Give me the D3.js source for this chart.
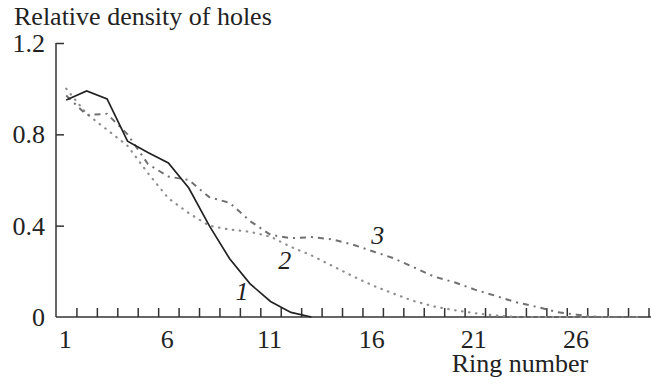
<!DOCTYPE html>
<html>
<head>
<meta charset="utf-8">
<script src="https://cdn.jsdelivr.net/npm/d3@7"></script>
<style>
  html, body { margin: 0; padding: 0; background: #fff; }
</style>
</head>
<body>
<svg id="chart" width="651" height="384"></svg>
<script>
// Ring numbers 1..29
const rings = d3.range(1, 30);

// Relative hole density per ring, three series
const series1 = [0.95, 0.99, 0.955, 0.77, 0.72, 0.675, 0.565, 0.40, 0.255, 0.145, 0.068, 0.02, 0];
const series2 = [1.0, 0.89, 0.82, 0.75, 0.63, 0.52, 0.455, 0.40, 0.383, 0.373, 0.352, 0.307, 0.27, 0.225,
                 0.18, 0.138, 0.103, 0.07, 0.046, 0.03, 0.017, 0.007, 0, 0, 0, 0, 0, 0, 0];
const series3 = [0.97, 0.885, 0.89, 0.80, 0.67, 0.615, 0.60, 0.525, 0.50, 0.42, 0.36, 0.345, 0.35, 0.34,
                 0.318, 0.288, 0.258, 0.218, 0.177, 0.152, 0.12, 0.093, 0.065, 0.045, 0.022, 0.01, 0, 0, 0];

const xTickLabels = [1, 6, 11, 16, 21, 26];
const yTickLabels = [0, 0.4, 0.8, 1.2];
const curveLabels = [
  { name: "1", ring: 9.6, value: 0.074 },
  { name: "2", ring: 11.7, value: 0.212 },
  { name: "3", ring: 16.25, value: 0.318 }
];

const serif = '"Liberation Serif"';
const fontSize = 26;

const svg = d3.select("#chart");
const plotLeft = 56, plotRight = 648.5, plotTop = 43, plotBottom = 317;

const x = d3.scaleLinear().domain([0.5, 29.5]).range([plotLeft, plotRight]);
const y = d3.scaleLinear().domain([0, 1.2]).range([plotBottom, plotTop]);

const axisColor = "#333";
const textColor = "#222";

function styleText(sel) {
  return sel.style("font-family", serif).attr("font-size", fontSize).attr("fill", textColor);
}

// y axis: line, inward ticks, labels
const yAxis = d3.axisRight(y).tickValues(yTickLabels).tickSize(8).tickFormat("");
const gy = svg.append("g").attr("transform", `translate(${plotLeft},0)`).call(yAxis);
gy.select(".domain").attr("d", `M0,${plotBottom}V${plotTop}`).attr("stroke", axisColor).attr("stroke-width", 1.5);
gy.selectAll(".tick line").attr("stroke", axisColor).attr("stroke-width", 1.5);
gy.selectAll(".tick").filter(d => d === 0).select("line").remove();

svg.append("g").selectAll("text").data(yTickLabels).join("text")
  .attr("x", 45).attr("y", d => y(d)).attr("dy", "0.35em")
  .attr("text-anchor", "end")
  .call(styleText)
  .text(d => d === 0 ? "0" : d3.format(".1f")(d));

// x axis: line with upward ticks between ring positions
const xTicks = d3.range(1.5, 30, 1);
const xAxis = d3.axisTop(x).tickValues(xTicks).tickSize(9).tickFormat("");
const gx = svg.append("g").attr("transform", `translate(0,${plotBottom})`).call(xAxis);
gx.select(".domain").attr("d", `M${plotLeft},0H${651}`).attr("stroke", axisColor).attr("stroke-width", 1.5);
gx.selectAll(".tick line").attr("stroke", axisColor).attr("stroke-width", 1.5);

svg.append("g").selectAll("text").data(xTickLabels).join("text")
  .attr("x", d => x(d) - 1).attr("y", 348)
  .attr("text-anchor", "middle")
  .call(styleText)
  .text(d => d);

// axis titles
svg.append("text").attr("x", 14).attr("y", 25)
  .call(styleText)
  .text("Relative density of holes");
svg.append("text").attr("x", 520).attr("y", 372).attr("text-anchor", "middle")
  .call(styleText)
  .text("Ring number");

// series lines
const line = d3.line().x((d, i) => x(rings[i])).y(d => y(d));

svg.append("path").datum(series2).attr("d", line)
  .attr("fill", "none").attr("stroke", "#8e8e8e").attr("stroke-width", 2.2)
  .attr("stroke-linecap", "round").attr("stroke-dasharray", "0.5,6.5");

svg.append("path").datum(series3).attr("d", line)
  .attr("fill", "none").attr("stroke", "#707070").attr("stroke-width", 2)
  .attr("stroke-dasharray", "6,5,2,5");

svg.append("path").datum(series1).attr("d", line)
  .attr("fill", "none").attr("stroke", "#222").attr("stroke-width", 1.7);

// curve number labels
svg.append("g").selectAll("text").data(curveLabels).join("text")
  .attr("x", d => x(d.ring)).attr("y", d => y(d.value))
  .attr("text-anchor", "middle")
  .call(styleText)
  .style("font-style", "italic")
  .text(d => d.name);
</script>
</body>
</html>
